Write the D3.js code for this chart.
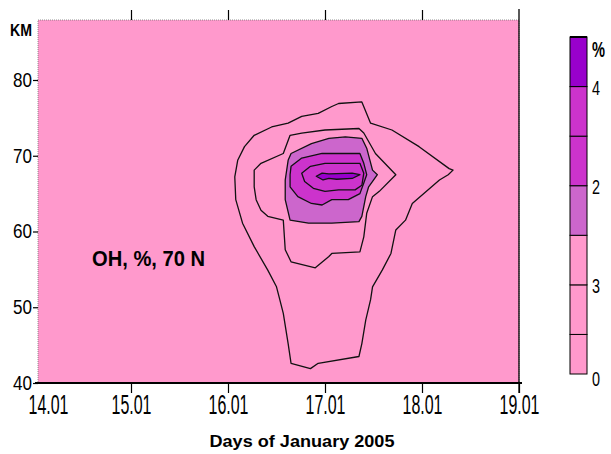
<!DOCTYPE html>
<html>
<head>
<meta charset="utf-8">
<script src="https://cdn.jsdelivr.net/npm/d3@7"></script>
<style>
  body { margin: 0; background: #fff; }
  svg { display: block; }
</style>
</head>
<body>
<script>
// chart data
const days = [14, 15, 16, 17, 18, 19];
const dayLabels = ["14.01", "15.01", "16.01", "17.01", "18.01", "19.01"];
const kmTicks = [40, 50, 60, 70, 80];

// colour bar: 7 bands, labels as printed on the original
const bandCount = 7;
const legendTickValues = [0, 2, 4, 6, 7];
const legendTickLabels = ["0", "3", "2", "4", "%"];

// contour rings, [day, km], outer to inner; level = band index inside the ring
const ring1 = [[17.14,76.9],[17.38,77.1],[17.47,74.3],[17.69,73.4],[17.97,71.2],[18.28,68.3],[18.32,68.1],
  [18.27,67.5],[18.18,66.8],[17.90,63.7],[17.83,61.5],[17.73,60.2],[17.68,57.1],[17.59,54.9],[17.49,52.7],
  [17.47,51.0],[17.42,48.3],[17.38,45.2],[17.35,43.5],[16.93,42.6],[16.85,41.9],[16.65,42.6],[16.62,45.2],
  [16.57,49.2],[16.53,51.2],[16.50,52.7],[16.41,54.9],[16.27,58.0],[16.15,61.1],[16.08,64.2],[16.07,67.2],
  [16.10,69.4],[16.17,71.2],[16.27,72.7],[16.45,73.8],[16.62,74.3],[16.76,75.2],[16.93,75.6],[17.07,76.5]];
const ring2 = [[16.27,68.1],[16.34,69.0],[16.57,70.3],[16.64,72.7],[16.76,73.0],[17.00,73.4],[17.35,73.6],
  [17.40,73.0],[17.52,70.3],[17.73,67.5],[17.56,65.3],[17.49,64.6],[17.43,62.4],[17.40,59.3],[17.36,57.3],
  [17.07,57.1],[17.04,56.7],[16.90,55.2],[16.65,56.0],[16.59,57.6],[16.57,61.5],[16.41,62.0],[16.34,62.8],
  [16.29,64.2],[16.27,65.9]];
const ring3 = [[16.65,70.3],[16.86,71.6],[17.04,72.3],[17.21,72.5],[17.38,72.3],[17.43,71.0],[17.49,68.1],
  [17.54,67.5],[17.45,65.9],[17.42,64.6],[17.38,62.0],[17.35,61.3],[17.07,61.1],[16.83,61.1],[16.64,61.5],
  [16.59,64.2],[16.59,66.8],[16.62,69.4]];
const ring4 = [[16.65,68.6],[16.76,69.7],[16.97,70.3],[17.17,70.3],[17.36,70.3],[17.40,69.0],[17.43,67.5],
  [17.40,66.4],[17.36,65.0],[17.24,64.2],[17.07,64.2],[16.97,63.5],[16.86,63.7],[16.72,64.6],[16.64,65.9],
  [16.64,67.5]];
const ring5 = [[16.76,67.7],[16.85,68.6],[17.00,69.0],[17.24,69.0],[17.36,69.0],[17.40,67.7],[17.38,66.1],
  [17.31,65.5],[17.14,65.5],[17.00,65.3],[16.88,65.7],[16.79,66.6]];
const ring6 = [[16.91,67.3],[16.97,67.7],[17.04,67.6],[17.28,67.7],[17.36,67.5],[17.28,67.0],[17.12,66.9],
  [17.04,67.0],[16.98,66.8]];
const rings = [ring1, ring2, ring3, ring4, ring5, ring6];
const ringLevels = [1, 2, 3, 4, 5, 6];

// styles
const bandColors = ["#ff99cc", "#ff99cc", "#ff99cc", "#cc66cc", "#cc33cc", "#cc33cc", "#9900cc"];
const NARROW = "'Liberation Sans Narrow', 'Arial Narrow', 'Liberation Sans', sans-serif";

const W = 611, H = 454;
const PLOT = {left: 38, right: 519, top: 20, bottom: 383};

const svg = d3.select("body").append("svg")
  .attr("width", W)
  .attr("height", H);

const x = d3.scaleLinear().domain([14, 19]).range([34, 519]);
const y = d3.scaleLinear().domain([40, 80]).range([383, 80]);

// plot background
svg.append("rect")
  .attr("x", PLOT.left).attr("y", PLOT.top)
  .attr("width", PLOT.right - PLOT.left).attr("height", PLOT.bottom - PLOT.top)
  .attr("fill", bandColors[0])
  .attr("stroke", "#777").attr("stroke-width", 0.8).attr("stroke-dasharray", "1,1");

const line = d3.line()
  .x(d => x(d[0]))
  .y(d => y(d[1]))
  .curve(d3.curveLinearClosed);

const contourGroup = svg.append("g");
// fills first, outer to inner
rings.forEach((r, i) => {
  contourGroup.append("path")
    .attr("d", line(r))
    .attr("fill", bandColors[ringLevels[i]])
    .attr("stroke", "none");
});
rings.forEach(r => {
  contourGroup.append("path")
    .attr("d", line(r))
    .attr("fill", "none")
    .attr("stroke", "#111")
    .attr("stroke-width", 1.3)
    .attr("stroke-linejoin", "round");
});

// bottom axis
const xAxis = d3.axisBottom(x)
  .tickValues(days)
  .tickFormat((d, i) => dayLabels[i])
  .tickSize(10)
  .tickPadding(2);
const xAxisGroup = svg.append("g")
  .attr("transform", "translate(0," + PLOT.bottom + ")")
  .call(xAxis);
xAxisGroup.select(".domain").remove();
xAxisGroup.selectAll(".tick line").attr("stroke", "#000").attr("stroke-width", 1.2)
  .filter(d => d === 14).remove();
xAxisGroup.selectAll(".tick text")
  .attr("font-family", NARROW)
  .attr("font-size", 27)
  .attr("fill", "#000")
  .attr("textLength", 40)
  .attr("lengthAdjust", "spacingAndGlyphs")
  .attr("dx", d => d === 14 ? 14 : 0);
svg.append("line")
  .attr("x1", 35).attr("x2", 522)
  .attr("y1", PLOT.bottom).attr("y2", PLOT.bottom)
  .attr("stroke", "#000").attr("stroke-width", 2);

// top ticks
const topAxis = d3.axisTop(x).tickValues([15, 16, 17, 18]).tickFormat("").tickSize(10);
const topGroup = svg.append("g")
  .attr("transform", "translate(0," + PLOT.top + ")")
  .call(topAxis);
topGroup.select(".domain").remove();
topGroup.selectAll(".tick line").attr("stroke", "#000").attr("stroke-width", 1.2);

// right border line
svg.append("line")
  .attr("x1", PLOT.right).attr("x2", PLOT.right)
  .attr("y1", 9).attr("y2", PLOT.bottom + 10)
  .attr("stroke", "#000").attr("stroke-width", 1.3);

// left axis
const yAxis = d3.axisLeft(y).tickValues(kmTicks).tickSize(5).tickPadding(1);
const yAxisGroup = svg.append("g")
  .attr("transform", "translate(" + PLOT.left + ",0)")
  .call(yAxis);
yAxisGroup.select(".domain").remove();
yAxisGroup.selectAll(".tick line").attr("stroke", "#000").attr("stroke-width", 1.2);
yAxisGroup.selectAll(".tick text")
  .attr("font-family", NARROW)
  .attr("font-size", 20)
  .attr("fill", "#000")
  .attr("textLength", 19)
  .attr("lengthAdjust", "spacingAndGlyphs");

// titles
svg.append("text")
  .attr("x", 10).attr("y", 36)
  .attr("font-family", NARROW).attr("font-weight", "bold").attr("font-size", 16)
  .attr("textLength", 22).attr("lengthAdjust", "spacingAndGlyphs")
  .text("KM");

svg.append("text")
  .attr("x", 302).attr("y", 447)
  .attr("text-anchor", "middle")
  .attr("font-family", "'Liberation Sans', Arial, sans-serif").attr("font-size", 17)
  .attr("font-weight", "bold")
  .attr("textLength", 185).attr("lengthAdjust", "spacingAndGlyphs")
  .text("Days of  January 2005");

svg.append("text")
  .attr("x", 92).attr("y", 266)
  .attr("font-family", NARROW).attr("font-weight", "bold").attr("font-size", 22)
  .attr("textLength", 113).attr("lengthAdjust", "spacingAndGlyphs")
  .text("OH, %, 70 N");

// colour bar
const LEG = {x: 570, w: 17, bottom: 374};
const ly = d3.scaleLinear().domain([0, bandCount]).range([384, 37]);
const legend = svg.append("g");
d3.range(bandCount).forEach(i => {
  const top = ly(i + 1);
  const bot = Math.min(ly(i), LEG.bottom);
  legend.append("rect")
    .attr("x", LEG.x).attr("y", top)
    .attr("width", LEG.w).attr("height", bot - top)
    .attr("fill", bandColors[i])
    .attr("stroke", "#000").attr("stroke-width", 1);
});
legend.append("line")
  .attr("x1", LEG.x).attr("x2", LEG.x + LEG.w)
  .attr("y1", ly(bandCount)).attr("y2", ly(bandCount))
  .attr("stroke", "#000").attr("stroke-width", 2);

legendTickValues.forEach((v, i) => {
  const isPct = legendTickLabels[i] === "%";
  legend.append("text")
    .attr("x", LEG.x + LEG.w + (isPct ? 5 : 5))
    .attr("y", isPct ? ly(v) + 20 : Math.min(ly(v), 378) + 8)
    .attr("font-family", NARROW)
    .attr("font-size", isPct ? 22 : 21)
    .attr("font-weight", isPct ? "bold" : "normal")
    .attr("textLength", isPct ? 13 : 8)
    .attr("lengthAdjust", "spacingAndGlyphs")
    .text(legendTickLabels[i]);
});
</script>
</body>
</html>
